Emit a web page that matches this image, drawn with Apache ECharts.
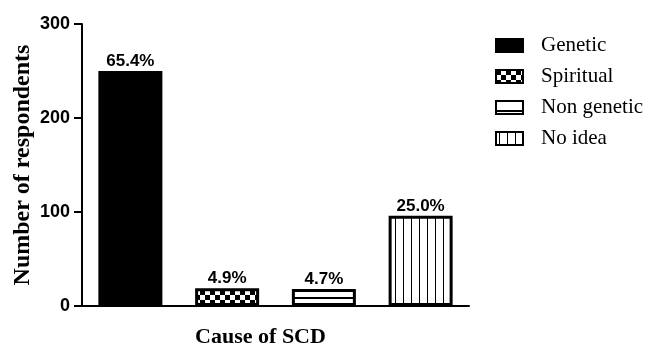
<!DOCTYPE html>
<html><head><meta charset="utf-8">
<script src="https://cdn.jsdelivr.net/npm/echarts@6/dist/echarts.min.js"></script>
<style>html,body{margin:0;padding:0;background:#fff}#c{width:649px;height:348px}</style>
</head><body><div id="c"></div>
<script>
const categories = ['Genetic', 'Spiritual', 'Non genetic', 'No idea'];
const counts = [250, 19, 18, 96];
const percentLabels = ['65.4%', '4.9%', '4.7%', '25.0%'];
const yTicks = [0, 100, 200, 300];

function pat(kind) {
  const c = document.createElement('canvas');
  const ctx = c.getContext('2d');
  if (kind === 'checker') {
    c.width = 10; c.height = 10;
    ctx.fillStyle = '#fff'; ctx.fillRect(0, 0, 10, 10);
    ctx.fillStyle = '#000'; ctx.fillRect(0, 0, 5, 5); ctx.fillRect(5, 5, 5, 5);
  } else if (kind === 'hline') {
    c.width = 4; c.height = 16;
    ctx.fillStyle = '#fff'; ctx.fillRect(0, 0, 4, 16);
    ctx.fillStyle = '#000'; ctx.fillRect(0, 9, 4, 2);
  } else if (kind === 'vline') {
    c.width = 8; c.height = 4;
    ctx.fillStyle = '#fff'; ctx.fillRect(0, 0, 8, 4);
    ctx.fillStyle = '#000'; ctx.fillRect(3, 0, 1, 4);
  }
  return { image: c, repeat: 'repeat' };
}
const fills = ['#000', pat('checker'), pat('hline'), pat('vline')];

const series = categories.map((name, i) => ({
  name: name,
  type: 'bar',
  stack: 'all',
  barWidth: 64,
  data: counts.map((v, j) => j === i ? v : '-'),
  itemStyle: { color: fills[i], borderColor: '#000', borderWidth: 3 },
  label: {
    show: true, position: 'top', distance: 1, lineHeight: 17,
    formatter: () => percentLabels[i],
    fontFamily: 'Arial, Liberation Sans', fontWeight: 'bold', fontSize: 17, color: '#000'
  }
}));

const chart = echarts.init(document.getElementById('c'));
chart.setOption({
  animation: false,
  backgroundColor: '#fff',
  grid: { left: 82, right: 180, top: 24, bottom: 42, containLabel: false, outerBoundsMode: 'none' },
  legend: {
    orient: 'vertical', left: 495, top: 35, padding: 0,
    icon: 'rect',
    itemWidth: 27, itemHeight: 13, itemGap: 10,
    textStyle: { fontFamily: 'Liberation Serif, Times New Roman', fontSize: 21, lineHeight: 21, color: '#000', padding: [0, 0, 0, 13] },
    data: categories
  },
  xAxis: {
    type: 'category', data: categories,
    name: 'Cause of SCD', nameLocation: 'middle', nameGap: 20,
    nameTextStyle: { fontFamily: 'Liberation Serif, Times New Roman', fontWeight: 'bold', fontSize: 22, color: '#000', padding: [0, 30, 0, 0] },
    axisLine: { lineStyle: { color: '#000', width: 2 } },
    axisTick: { alignWithLabel: true, length: 9, lineStyle: { color: '#000', width: 2 } },
    axisLabel: { show: false }
  },
  yAxis: {
    type: 'value', min: yTicks[0], max: yTicks[yTicks.length - 1], interval: 100,
    name: 'Number of respondents', nameLocation: 'middle', nameGap: 47, nameMoveOverlap: false,
    nameTextStyle: { fontFamily: 'Liberation Serif, Times New Roman', fontWeight: 'bold', fontSize: 24, color: '#000' },
    axisLine: { show: true, lineStyle: { color: '#000', width: 2 } },
    axisTick: { show: true, length: 8, lineStyle: { color: '#000', width: 2 } },
    axisLabel: { fontFamily: 'Arial, Liberation Sans', fontWeight: 'bold', fontSize: 18, color: '#000', margin: 12 },
    splitLine: { show: false }
  },
  series: series
});
</script></body></html>
